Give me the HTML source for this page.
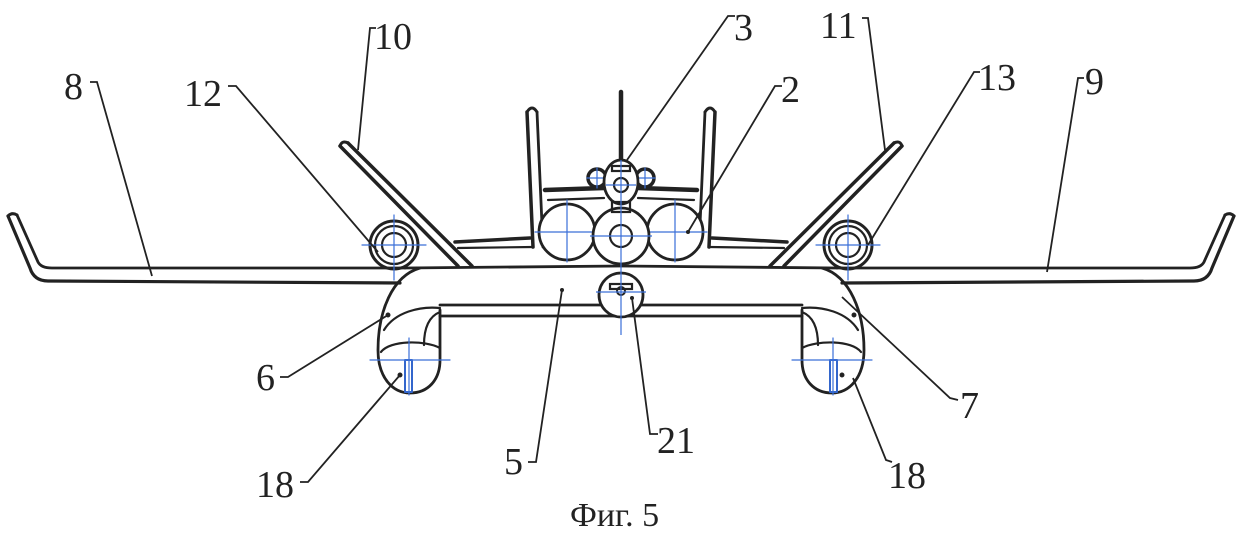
<!DOCTYPE html>
<html><head><meta charset="utf-8"><style>
html,body{margin:0;padding:0;background:#fff;}
svg{display:block;}
text{font-family:"Liberation Serif",serif;fill:#222;}
</style></head><body>
<svg width="1246" height="534" viewBox="0 0 1246 534" xmlns="http://www.w3.org/2000/svg">
<defs>
<g id="half" fill="none" stroke="#222" stroke-linecap="round" stroke-linejoin="round">
  <path d="M8,216 L30,268 Q34,281 48,281 L400,283" stroke-width="3.2"/>
  <path d="M17,215 L38,262 Q41,268 52,268 L405,268" stroke-width="2.8"/>
  <path d="M8,216 Q12,212 17,215" stroke-width="3"/>
  <circle cx="394" cy="245" r="24" stroke-width="3"/>
  <circle cx="394" cy="245" r="19" stroke-width="2.2"/>
  <circle cx="394" cy="245" r="12" stroke-width="2.2"/>
  <path d="M340,146 L458,266" stroke-width="3.5"/>
  <path d="M348,143 L472,266" stroke-width="3.5"/>
  <path d="M340,146 Q342,140 348,143" stroke-width="3"/>
  <path d="M455,242 L530,238" stroke-width="3.5"/>
  <path d="M458,248 L533,247" stroke-width="2.2"/>
  <path d="M527,112 L533,247" stroke-width="3.5"/>
  <path d="M537,112 L543,247" stroke-width="2.8"/>
  <path d="M527,112 Q532,104 537,112" stroke-width="3"/>
  <path d="M545,190 L604,188" stroke-width="4.5"/>
  <path d="M548,200 L604,198" stroke-width="2.2"/>
  <circle cx="567" cy="232" r="28" stroke-width="2.8" fill="#fff"/>
  <circle cx="597" cy="178" r="9" stroke-width="3.5"/>
  <path d="M405,268 L621,266" stroke-width="2.8"/>
  <path d="M420,268 C392,276 378,312 378,350 C378,378 393,393 410,393 C428,393 440,380 440,360 L440,310" stroke-width="2.8"/>
  <path d="M384,330 C395,312 420,306 440,308" stroke-width="2.2"/>
  <path d="M440,305 L621,305" stroke-width="2.8"/>
  <path d="M440,316 L621,316" stroke-width="2.8"/>
  <path d="M424,345 C424,326 430,316 440,312" stroke-width="2.2"/>
  <path d="M381,352 C390,340 425,340 440,348" stroke-width="2.2"/>
  <rect x="405" y="360" width="7" height="32" stroke="#3366cc" stroke-width="2"/>
  <g stroke="#3a6fd8" stroke-width="1.2">
    <path d="M362,245 L426,245 M394,215 L394,280"/>
    <path d="M370,360 L450,360 M409,338 L409,395"/>
    <path d="M535,232 L600,232 M567,200 L567,262"/>
    <path d="M587,178 L607,178 M597,168 L597,188"/>
  </g>
  <circle cx="388" cy="315" r="2" fill="#222"/>
  <circle cx="400" cy="375" r="2" fill="#222"/>
</g>
</defs>
<use href="#half"/>
<use href="#half" transform="translate(1242,0) scale(-1,1)"/>
<g fill="none" stroke="#222" stroke-linecap="round">
  <path d="M621,92 L621,165" stroke-width="4.5"/>
  <circle cx="621" cy="236" r="28" stroke-width="2.8" fill="#fff"/>
  <circle cx="621" cy="236" r="11" stroke-width="2.2"/>
  <ellipse cx="621" cy="182" rx="17" ry="22" stroke-width="2.8" fill="#fff"/>
  <circle cx="621" cy="185" r="7" stroke-width="2.2"/>
  <rect x="612" y="166" width="18" height="5" stroke-width="2.2"/>
  <rect x="612" y="202" width="18" height="10" stroke-width="2.2"/>
  <circle cx="621" cy="295" r="22" stroke-width="2.8" fill="#fff"/>
  <rect x="610" y="284" width="22" height="5" stroke-width="2.2"/>
  <circle cx="621" cy="291" r="4" stroke-width="2"/>
</g>
<g stroke="#3a6fd8" stroke-width="1.2">
  <path d="M621,160 L621,335"/>
  <path d="M606,185 L636,185 M590,236 L652,236 M596,292 L646,292"/>
</g>
<circle cx="562" cy="290" r="2" fill="#222"/>
<circle cx="632" cy="298" r="2" fill="#222"/>
<circle cx="688" cy="232" r="2" fill="#222"/>
<g fill="none" stroke="#222" stroke-width="1.8">
  <path d="M90,82 L97,82 L152,276"/>
  <path d="M228,86 L236,86 L378,252"/>
  <path d="M376,28 L370,28 L358,150"/>
  <path d="M735,16 L728,16 L627,160"/>
  <path d="M782,86 L775,86 L688,232"/>
  <path d="M862,18 L868,18 L885,150"/>
  <path d="M980,72 L974,72 L868,245"/>
  <path d="M1084,78 L1078,78 L1047,272"/>
  <path d="M280,377 L288,377 L388,315"/>
  <path d="M958,400 L950,398 L842,297"/>
  <path d="M300,482 L308,482 L400,375"/>
  <path d="M528,462 L536,462 L562,290"/>
  <path d="M658,434 L650,434 L632,298"/>
  <path d="M892,462 L886,460 L853,378"/>
</g>
<g font-size="38">
  <text x="64" y="99">8</text>
  <text x="184" y="106">12</text>
  <text x="374" y="49">10</text>
  <text x="734" y="40">3</text>
  <text x="781" y="102">2</text>
  <text x="820" y="38">11</text>
  <text x="978" y="90">13</text>
  <text x="1085" y="94">9</text>
  <text x="256" y="390">6</text>
  <text x="960" y="418">7</text>
  <text x="256" y="497">18</text>
  <text x="504" y="474">5</text>
  <text x="657" y="453">21</text>
  <text x="888" y="488">18</text>
  <text x="570" y="526" font-size="34">Фиг. 5</text>
</g>
</svg>
</body></html>
